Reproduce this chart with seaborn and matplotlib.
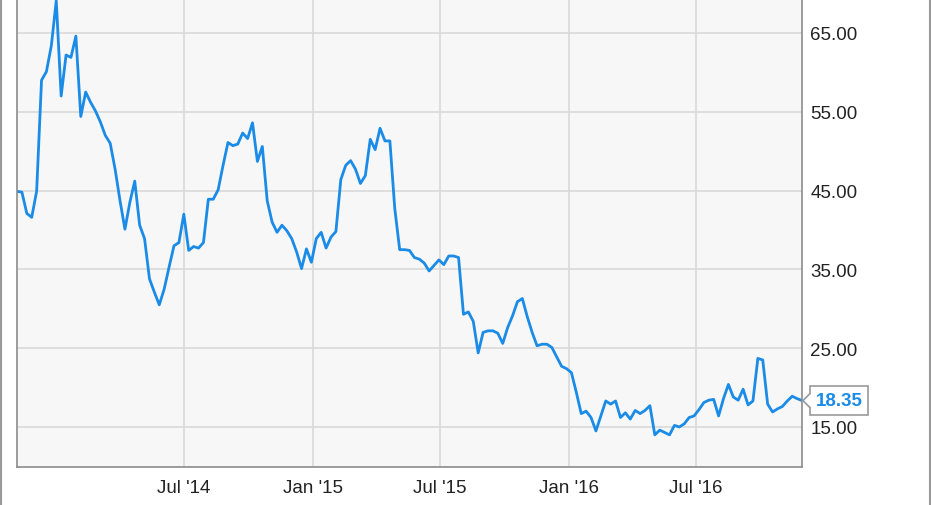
import pandas as pd
import matplotlib.pyplot as plt
import matplotlib.dates as mdates
import matplotlib.transforms as mtransforms
from matplotlib.lines import Line2D
from matplotlib.patches import Polygon
from matplotlib.ticker import FormatStrFormatter
import seaborn as sns

# weekly closing prices, first week and values
first_week = "2013-11-05"
prices = [
    44.9, 44.8, 42.1, 41.6, 44.9, 59.0, 60.1, 63.4, 69.1, 57.0,
    62.2, 61.9, 64.6, 54.4, 57.5, 56.2, 55.1, 53.7, 52.0, 51.0,
    47.7, 43.7, 40.1, 43.5, 46.2, 40.6, 38.9, 33.8, 32.1, 30.5,
    32.5, 35.3, 38.0, 38.4, 42.0, 37.4, 37.9, 37.7, 38.4, 43.9,
    43.9, 45.1, 48.2, 51.1, 50.7, 50.9, 52.3, 51.6, 53.6, 48.7,
    50.6, 43.7, 41.0, 39.7, 40.6, 39.9, 38.9, 37.2, 35.1, 37.6,
    35.9, 38.9, 39.7, 37.7, 39.1, 39.8, 46.4, 48.2, 48.8, 47.7,
    45.9, 46.9, 51.5, 50.2, 52.9, 51.3, 51.3, 42.7, 37.5, 37.5,
    37.4, 36.5, 36.3, 35.8, 34.8, 35.5, 36.2, 35.6, 36.7, 36.7,
    36.5, 29.3, 29.6, 28.4, 24.4, 27.0, 27.2, 27.2, 26.9, 25.6,
    27.6, 29.1, 30.9, 31.3, 29.0, 27.0, 25.3, 25.5, 25.5, 25.1,
    23.9, 22.7, 22.4, 21.9, 19.4, 16.7, 17.0, 16.2, 14.5, 16.4,
    18.3, 17.9, 18.3, 16.2, 16.8, 16.0, 17.1, 16.7, 17.1, 17.7,
    14.0, 14.6, 14.3, 14.0, 15.2, 15.0, 15.4, 16.2, 16.4, 17.2,
    18.1, 18.4, 18.5, 16.4, 18.6, 20.4, 18.8, 18.4, 19.8, 17.8,
    18.3, 23.7, 23.5, 17.9, 16.9, 17.3, 17.6, 18.3, 18.9, 18.6,
    18.35,
]
x_ticks = ["2014-07-01", "2015-01-01", "2015-07-01", "2016-01-01", "2016-07-01"]
y_ticks = [15, 25, 35, 45, 55, 65]
last_label = "18.35"

df = pd.DataFrame({
    "date": pd.date_range(first_week, periods=len(prices), freq="7D"),
    "price": prices,
})

sns.set_style("whitegrid")
plt.rcParams["font.family"] = ["Liberation Sans", "DejaVu Sans"]

blue = "#1a8be6"
grey = "#8c8c8c"

fig = plt.figure(figsize=(9.31, 5.06), dpi=100)
ax = fig.add_axes([17 / 931, 38 / 506, 785 / 931, 468 / 506])
ax.set_facecolor("#f7f7f7")

sns.lineplot(data=df, x="date", y="price", ax=ax, color=blue, linewidth=2.0)

ax.set_xlim(df["date"].iloc[0], df["date"].iloc[-1])
ax.set_ylim(9.92, 69.31)
ax.set_xticks(pd.to_datetime(x_ticks))
ax.xaxis.set_major_formatter(mdates.DateFormatter("%b '%y"))
ax.yaxis.tick_right()
ax.set_yticks(y_ticks)
ax.yaxis.set_major_formatter(FormatStrFormatter("%.2f"))
ax.tick_params(length=0, labelsize=13.5, colors="#222222")
ax.tick_params(axis="x", pad=9)
ax.tick_params(axis="y", pad=6)
ax.set_xlabel("")
ax.set_ylabel("")
ax.grid(True, color="#dadada", linewidth=1.2)

ax.spines["top"].set_visible(False)
for side in ["left", "bottom", "right"]:
    ax.spines[side].set_visible(True)
    ax.spines[side].set_color(grey)
    ax.spines[side].set_linewidth(1.2)

# last price tag
trans = mtransforms.blended_transform_factory(ax.transAxes, ax.transData)
last = prices[-1]
ax.text(1.0175, last, last_label, transform=trans, ha="left", va="center",
        color=blue, fontsize=13.5, fontweight="bold", clip_on=False, zorder=5,
        bbox=dict(boxstyle="square,pad=0.3", fc="white", ec="#999999", lw=1.2))
ax.add_patch(Polygon([(1.0118, last + 0.9), (1.0013, last), (1.0118, last - 0.9)],
                     closed=True, transform=trans, fc="white", ec="none",
                     clip_on=False, zorder=6))
ax.add_line(Line2D([1.0102, 1.0013, 1.0102], [last + 0.9, last, last - 0.9],
                   transform=trans, color="#999999", lw=1.2, clip_on=False, zorder=7))

# frame around the picture
fig.add_artist(Line2D([0.0016, 0.0016], [0, 1], transform=fig.transFigure, color="#999999", lw=1.5))
fig.add_artist(Line2D([0.9984, 0.9984], [0, 1], transform=fig.transFigure, color="#999999", lw=1.5))

fig.savefig("out.png", dpi=100)
